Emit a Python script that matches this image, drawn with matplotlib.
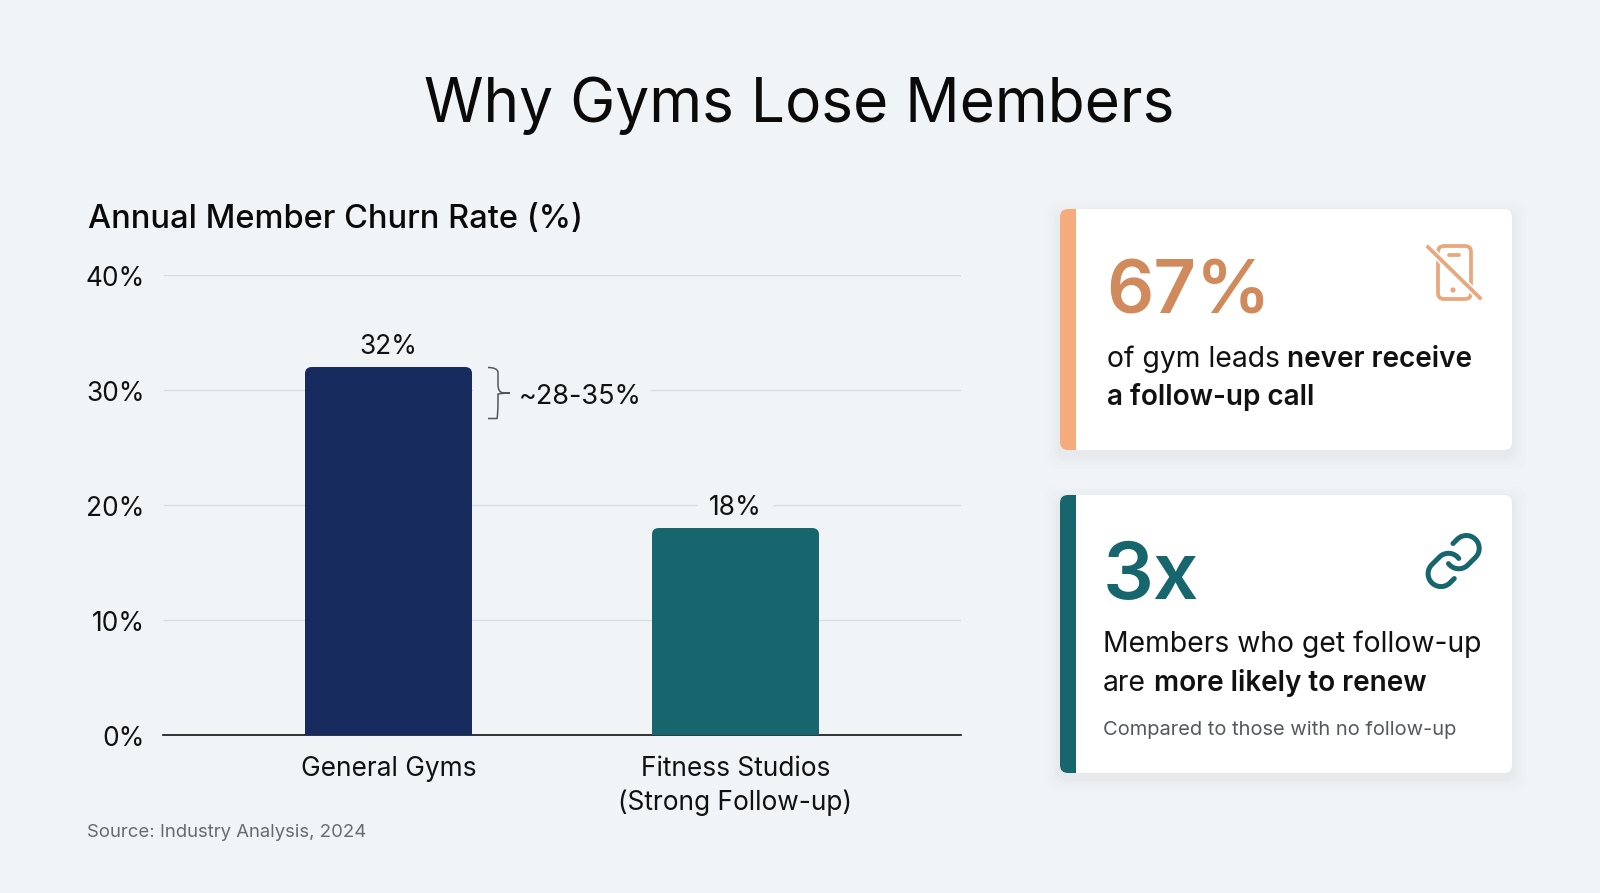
import numpy as np
import matplotlib
matplotlib.use("Agg")
import matplotlib.pyplot as plt
from matplotlib.patches import FancyBboxPatch, Rectangle, Circle, PathPatch
from matplotlib.path import Path
from matplotlib.transforms import IdentityTransform, ScaledTranslation

plt.rcParams['font.family'] = ['Inter', 'DejaVu Sans']

# ------------------------------
# Data
# ------------------------------
categories = ["General Gyms", "Fitness Studios\n(Strong Follow-up)"]
churn = [32, 18]
churn_labels = ["32%", "18%"]
y_ticks = [0, 10, 20, 30, 40]
y_tick_labels = ["0%", "10%", "20%", "30%", "40%"]

C_BG = "#f1f4f6"
C_GRID = "#d5dfdf"
C_NAVY = "#172b5e"
C_TEAL = "#17666e"
C_PEACH = "#f5ab7c"
C_PEACH_TXT = "#d08a5c"
C_PEACH_ICON = "#e8a77c"
C_TXT = "#111111"
FS = 26.3
FS_BODY = 28.3
FS_BOLD = 27.9


def pt(px):
    return px * 0.72


fig = plt.figure(figsize=(16, 8.93), dpi=100, facecolor=C_BG)

# ------------------------------
# Bar chart
# ------------------------------
ax = fig.add_axes([163 / 1600, (893 - 735) / 893, 798 / 1600, 460 / 893], zorder=1)
ax.patch.set_alpha(0)
ax.set_xlim(-0.65, 1.65)
ax.set_ylim(0, 40)
for s in ("top", "left", "right"):
    ax.spines[s].set_visible(False)
ax.spines["bottom"].set_color("#111111")
ax.spines["bottom"].set_linewidth(1.2)
ax.set_yticks(y_ticks, y_tick_labels, fontsize=pt(FS), color=C_TXT)
ax.set_xticks(range(len(categories)), categories, fontsize=pt(FS), color=C_TXT, linespacing=1.36)
ax.tick_params(axis="both", length=0)
ax.tick_params(axis="y", pad=13)
ax.tick_params(axis="x", pad=15)
# y labels sit a little under their gridlines
down = ScaledTranslation(0, -1 / 100, fig.dpi_scale_trans)
for lab in ax.get_yticklabels():
    lab.set_transform(lab.get_transform() + down)

# gridlines stop around the labels at 30 and 20
ax.hlines([10, 40], -0.65, 1.65, color=C_GRID, lw=1, zorder=1)
ax.hlines(30, -0.65, 0.243, color=C_GRID, lw=1, zorder=1)
ax.hlines(30, 0.754, 1.65, color=C_GRID, lw=1, zorder=1)
ax.hlines(20, -0.65, 0.889, color=C_GRID, lw=1, zorder=1)
ax.hlines(20, 1.108, 1.65, color=C_GRID, lw=1, zorder=1)

bars = ax.bar(range(len(categories)), churn, width=0.482, color=[C_NAVY, C_TEAL], zorder=3)

# the bars have rounded top corners only
fig.canvas.draw()
for b in bars:
    e = b.get_window_extent()
    clip = FancyBboxPatch((e.x0, e.y0 - 20), e.width, e.height + 20,
                          boxstyle="round,pad=0,rounding_size=7", transform=IdentityTransform())
    b.set_clip_path(clip)

for i, lab in enumerate(churn_labels):
    ax.annotate(lab, (i, churn[i]), xytext=(0, 7), textcoords="offset pixels", ha="center", va="bottom",
                fontsize=pt(FS), color=C_TXT, zorder=5)

# pixel overlay for the cards and free text
ov = fig.add_axes([0, 0, 1, 1], zorder=2)
ov.set_xlim(0, 1600)
ov.set_ylim(893, 0)
ov.axis("off")
ov.patch.set_alpha(0)

# range note next to the first bar
ov.text(519, 404, "~28-35%", fontsize=pt(27), color=C_TXT, va="baseline", zorder=6)
brace = Path([(488, 367.5), (497, 367.5), (498, 372), (498, 385), (498, 392), (503, 393), (510, 393),
              (503, 393), (498, 394), (498, 401), (498, 414), (497, 418.5), (488, 418.5)],
             [Path.MOVETO, Path.CURVE3, Path.CURVE3, Path.LINETO, Path.CURVE3, Path.CURVE3, Path.LINETO,
              Path.CURVE3, Path.CURVE3, Path.LINETO, Path.CURVE3, Path.CURVE3, Path.LINETO])
ov.add_patch(PathPatch(brace, fill=False, edgecolor="#555555", lw=1.1, zorder=6))

# ------------------------------
# Titles
# ------------------------------
ov.text(799, 122, "Why Gyms Lose Members", ha="center", va="baseline", fontsize=pt(60.4), color="#0a0a0a")
ov.text(88, 228, "Annual Member Churn Rate (%)", va="baseline", fontsize=pt(32.6), fontweight=500, color="#0a0a0a")
ov.text(87, 837, "Source: Industry Analysis, 2024", va="baseline", fontsize=pt(18.5), color="#666b70")


# ------------------------------
# Cards
# ------------------------------
def card(x0, y0, x1, y1, accent):
    for grow, a in ((14, 0.006), (10, 0.009), (6, 0.012), (3, 0.016)):
        ov.add_patch(FancyBboxPatch((x0 - grow, y0 - grow + 5), x1 - x0 + 2 * grow, y1 - y0 + 2 * grow,
                                    boxstyle="round,pad=0,rounding_size=12", facecolor="#20303a",
                                    edgecolor="none", alpha=a, zorder=2))
    body = FancyBboxPatch((x0, y0), x1 - x0, y1 - y0, boxstyle="round,pad=0,rounding_size=8",
                          facecolor="white", edgecolor="none", zorder=3)
    ov.add_patch(body)
    bar = Rectangle((x0, y0), 16, y1 - y0, facecolor=accent, edgecolor="none", zorder=4)
    ov.add_patch(bar)
    bar.set_clip_path(body)


card(1060, 209, 1512, 450, C_PEACH)
card(1060, 495, 1512, 773, C_TEAL)

ov.text(1106, 313, "67%", fontsize=pt(74), fontweight=600, color=C_PEACH_TXT, va="baseline", zorder=5)
ov.text(1107, 367, "of gym leads", fontsize=pt(FS_BODY), color=C_TXT, va="baseline", zorder=5)
ov.text(1287, 367, "never receive", fontsize=pt(FS_BOLD), fontweight=600, color=C_TXT, va="baseline", zorder=5)
ov.text(1107, 405, "a follow-up call", fontsize=pt(FS_BOLD), fontweight=600, color=C_TXT, va="baseline", zorder=5)

ov.text(1103, 599, "3x", fontsize=pt(80), fontweight=600, color=C_TEAL, va="baseline", zorder=5)
ov.text(1103, 652, "Members who get follow-up", fontsize=pt(FS_BODY), color=C_TXT, va="baseline", zorder=5)
ov.text(1103, 691, "are", fontsize=pt(FS_BODY), color=C_TXT, va="baseline", zorder=5)
ov.text(1154, 691, "more likely to renew", fontsize=pt(FS_BOLD), fontweight=600, color=C_TXT, va="baseline", zorder=5)
ov.text(1103, 735, "Compared to those with no follow-up", fontsize=pt(20.1), color="#55595c", va="baseline", zorder=5)

# ------------------------------
# Icons
# ------------------------------
# crossed-out phone
ov.add_patch(FancyBboxPatch((1438, 246), 33, 53, boxstyle="round,pad=0,rounding_size=6", fill=False,
                            edgecolor=C_PEACH_ICON, lw=2.7, zorder=5))
ov.plot([1449, 1459], [254.5, 254.5], color=C_PEACH_ICON, lw=2.7, solid_capstyle="round", zorder=5)
ov.add_patch(Circle((1453, 290), 2.6, facecolor=C_PEACH_ICON, edgecolor="none", zorder=5))
ov.plot([1428, 1480], [247, 298], color="white", lw=5.5, zorder=6)
ov.plot([1428, 1480], [247, 298], color=C_PEACH_ICON, lw=2.7, zorder=7)


def arc(p0, p1, r=5.0, n=24):
    # svg arc with sweep flag 0, y pointing down
    p0, p1 = np.array(p0), np.array(p1)
    mid = (p0 + p1) / 2
    d = p1 - p0
    h = np.sqrt(max(r ** 2 - (d @ d) / 4, 0))
    normal = np.array([d[1], -d[0]]) / np.hypot(*d)
    c = mid + normal * h
    a0 = np.arctan2(*(p0 - c)[::-1])
    a1 = np.arctan2(*(p1 - c)[::-1])
    while a1 > a0:
        a1 -= 2 * np.pi
    t = np.linspace(a0, a1, n)
    return np.column_stack([c[0] + r * np.cos(t), c[1] + r * np.sin(t)])


def link_half(sign):
    # one half of the 24-unit chain glyph, the other half is its point mirror
    s = np.array([sign, sign])
    o = np.array([12, 12]) * (1 - sign)
    a = np.array([10, 13.0])
    b = a + [7.54, 0.54]
    c = b + [3, -3]
    d = c + [-7.07, -7.07]
    e = d + [-1.72, 1.71]
    pts = np.vstack([arc(a, b), c, arc(c, d), e])
    return pts * s + o


for sign in (1, -1):
    pts = link_half(sign)
    ov.plot(1422.8 + pts[:, 0] * 2.57, 530.2 + pts[:, 1] * 2.57, color=C_TEAL, lw=3.6,
            solid_capstyle="round", solid_joinstyle="round", zorder=5)

ov.set_xlim(0, 1600)
ov.set_ylim(893, 0)

fig.savefig("out.png", dpi=100, facecolor=C_BG)
